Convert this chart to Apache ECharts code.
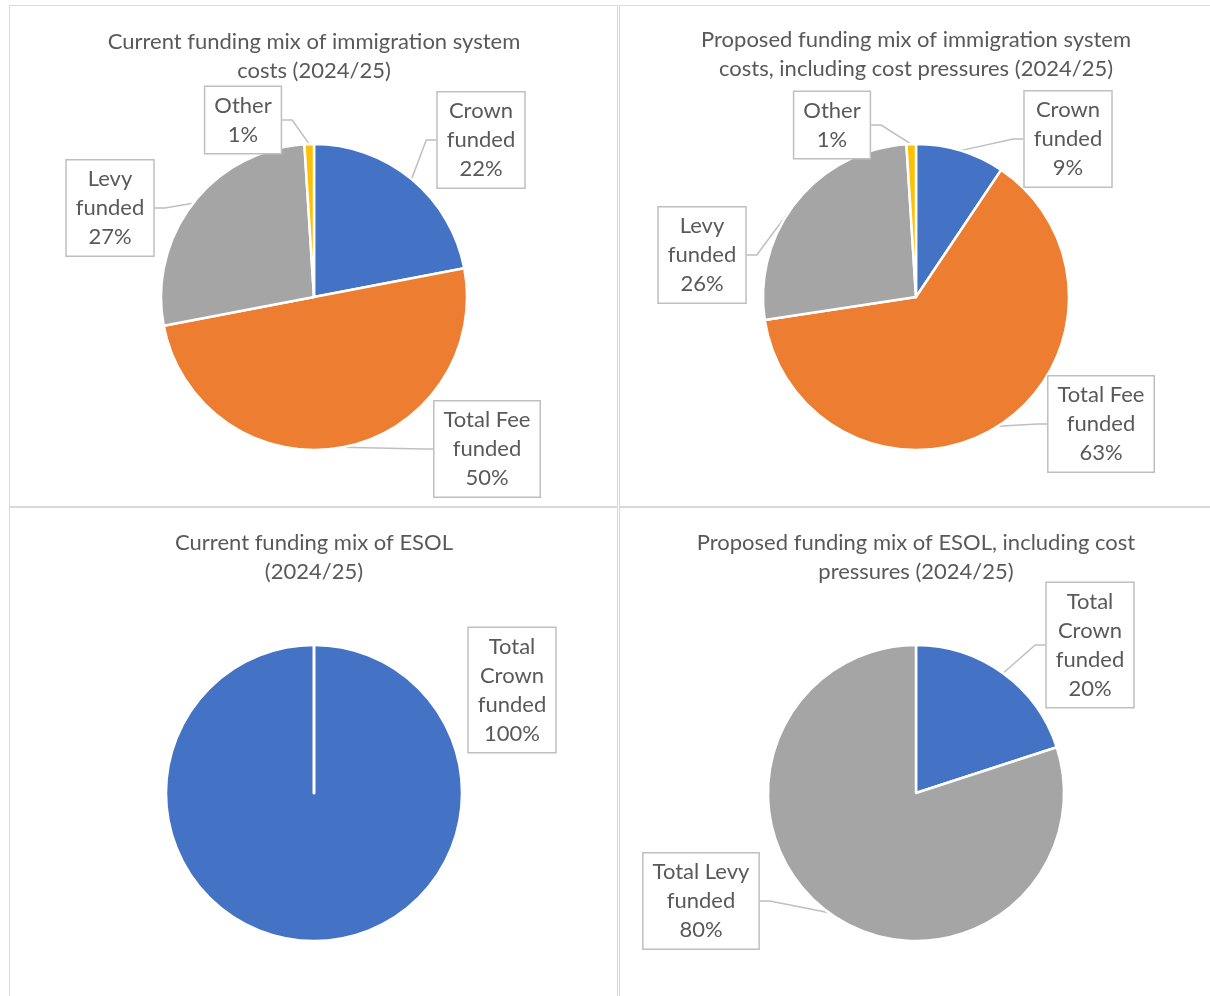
<!DOCTYPE html>
<html>
<head>
<meta charset="utf-8">
<script src="https://cdn.jsdelivr.net/npm/echarts@6/dist/echarts.min.js"></script>
<style>
  html, body { margin: 0; padding: 0; background: #fff; }
  #wrap { position: relative; width: 1210px; height: 996px; overflow: hidden; }
  .frame { position: absolute; border: 1.5px solid #D9D9D9; box-sizing: border-box; }
  #chart { position: absolute; left: 0; top: 0; width: 1210px; height: 996px; }
</style>
</head>
<body>
<div id="wrap">
  <div class="frame" style="left:9px;top:5px;width:609px;height:502px;"></div>
  <div class="frame" style="left:619px;top:5px;width:600px;height:502px;"></div>
  <div class="frame" style="left:9px;top:507px;width:609px;height:500px;"></div>
  <div class="frame" style="left:619px;top:507px;width:600px;height:500px;"></div>
  <div id="chart"></div>
</div>
<script>
// ---- data ----
const titles = [
  'Current funding mix of immigration system\ncosts (2024/25)',
  'Proposed funding mix of immigration system\ncosts, including cost pressures (2024/25)',
  'Current funding mix of ESOL\n(2024/25)',
  'Proposed funding mix of ESOL, including cost\npressures (2024/25)'
];
const immigrationCategories = ['Crown funded', 'Total Fee funded', 'Levy funded', 'Other'];
const immigrationLabels = ['Crown\nfunded', 'Total Fee\nfunded', 'Levy\nfunded', 'Other'];
const currentImmigration = [22, 50, 27, 1];
const proposedImmigration = [9.4, 63.2, 26.4, 1.0];
const esolCurrentCategories = ['Total Crown funded'];
const esolCurrentLabels = ['Total\nCrown\nfunded'];
const currentEsol = [100];
const esolProposedCategories = ['Total Crown funded', 'Total Levy funded'];
const esolProposedLabels = ['Total\nCrown\nfunded', 'Total Levy\nfunded'];
const proposedEsol = [20, 80];

// ---- layout / style ----
const colorsImm = ['#4472C4', '#ED7D31', '#A5A5A5', '#FFC000'];
const colorsEsol = ['#4472C4', '#A5A5A5'];
const centers = [[314, 297], [916, 297], [314, 793], [916, 793]];
const radii = [153, 153, 148, 148];
const titleTops = [27, 25, 528, 528];
const labelCenters = [
  [[481, 140], [487, 449], [110, 208], [243, 120]],
  [[1068, 139], [1101, 424], [702, 255], [832, 125]],
  [[512, 690]],
  [[1090, 645], [701, 901]]
];
const FONT = 'Lato, "Noto Sans", sans-serif';
const TEXT = '#595959';

function makeSeries(idx, cats, labels, values, colors, hideLines) {
  return {
    type: 'pie',
    center: centers[idx],
    radius: radii[idx],
    startAngle: 90,
    clockwise: true,
    avoidLabelOverlap: false,
    animation: false,
    silent: true,
    itemStyle: { borderColor: '#ffffff', borderWidth: 2.5 },
    label: {
      show: true,
      position: 'outside',
      formatter: function (p) {
        return labels[p.dataIndex] + '\n' + Math.round(p.percent) + '%';
      },
      color: TEXT,
      fontFamily: FONT,
      fontSize: 22,
      lineHeight: 29,
      align: 'center',
      backgroundColor: '#ffffff',
      borderColor: '#BFBFBF',
      borderWidth: 1.5,
      padding: [4, 9, 4, 9]
    },
    labelLine: {
      show: !hideLines,
      length: 10,
      length2: 10,
      lineStyle: { color: '#BFBFBF', width: 1.5 }
    },
    labelLayout: function (params) {
      const c = labelCenters[idx][params.dataIndex];
      return { x: c[0], y: c[1], align: 'center', verticalAlign: 'middle' };
    },
    data: cats.map(function (n, i) {
      return { name: n, value: values[i], itemStyle: { color: colors[i] } };
    })
  };
}

const chart = echarts.init(document.getElementById('chart'), null, { renderer: 'canvas' });
const option = {
  backgroundColor: 'transparent',
  animation: false,
  title: titles.map(function (t, i) {
    return {
      text: t,
      left: centers[i][0],
      top: titleTops[i],
      textAlign: 'center',
      padding: 0,
      textStyle: {
        color: TEXT, fontFamily: FONT, fontSize: 22, fontWeight: 'normal', lineHeight: 29
      }
    };
  }),
  series: [
    makeSeries(0, immigrationCategories, immigrationLabels, currentImmigration, colorsImm, false),
    makeSeries(1, immigrationCategories, immigrationLabels, proposedImmigration, colorsImm, false),
    makeSeries(2, esolCurrentCategories, esolCurrentLabels, currentEsol, colorsEsol, true),
    makeSeries(3, esolProposedCategories, esolProposedLabels, proposedEsol, colorsEsol, false)
  ],
  graphic: [{
    // radial white edge of the single full slice (from the pie's own center to its start angle)
    type: 'line',
    silent: true,
    z: 100,
    shape: {
      x1: centers[2][0], y1: centers[2][1],
      x2: centers[2][0], y2: centers[2][1] - radii[2]
    },
    style: { stroke: '#ffffff', lineWidth: 3, lineCap: 'round' }
  }]
};
chart.setOption(option);
</script>
</body>
</html>
